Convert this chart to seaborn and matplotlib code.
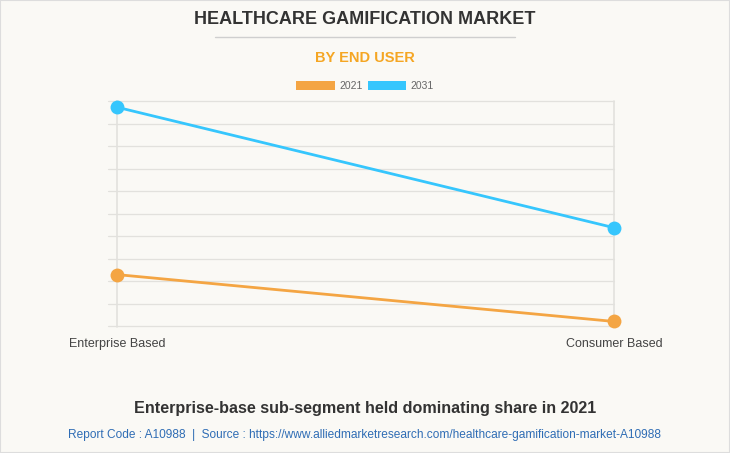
import matplotlib
matplotlib.use('Agg')
import matplotlib.pyplot as plt
import seaborn as sns
import pandas as pd
from matplotlib.patches import Patch, Rectangle
from matplotlib.lines import Line2D

# market values (approx, $ billion)
end_users = ['Enterprise Based', 'Consumer Based']
years = ['2021', '2031']
values_2021 = [4.6, 0.44]
values_2031 = [19.45, 8.76]
palette = {'2021': '#f4a543', '2031': '#36c6fd'}

df = pd.DataFrame({
    'segment': end_users * 2,
    'x': [0, 1] * 2,
    'year': ['2021'] * 2 + ['2031'] * 2,
    'value': values_2021 + values_2031,
})

bg = '#faf9f5'
sns.set_theme(style='white')
plt.rcParams['font.family'] = ['Liberation Sans', 'DejaVu Sans']

fig = plt.figure(figsize=(7.3, 4.53), dpi=100, facecolor=bg)
ax = fig.add_axes([108 / 730, 1 - 327 / 453, (614 - 108) / 730, (327 - 101) / 453])
ax.set_facecolor(bg)

for yr in years:
    sub = df[df['year'] == yr]
    sns.lineplot(data=sub, x='x', y='value', ax=ax, color=palette[yr],
                 linewidth=2.0, marker='o', markersize=10, markeredgewidth=0,
                 clip_on=False, zorder=3, legend=False)

ax.set_xlim(-0.018, 1)
ax.set_ylim(-0.05, 20)
ax.set_yticks(range(0, 21, 2))
ax.set_yticklabels([])
ax.set_xticks([0, 1])
ax.set_xticklabels(end_users, fontsize=9, color='#444444')
ax.tick_params(axis='x', length=0, pad=8)
ax.tick_params(axis='y', length=0)
ax.grid(axis='y', color='#e2e1dd', linewidth=0.9)
for gl in ax.get_ygridlines():
    gl.set_clip_on(False)
for xv in [0, 1]:
    ax.axvline(xv, color='#e2e1dd', linewidth=1.2, zorder=1, clip_on=False)
for s in ax.spines.values():
    s.set_visible(False)
ax.set_xlabel('')
ax.set_ylabel('')

fig.text(0.5, 1 - 20 / 453, 'HEALTHCARE GAMIFICATION MARKET', ha='center', va='center',
         fontsize=13, fontweight='bold', color='#333333')
fig.add_artist(Line2D([215 / 730, 515 / 730], [1 - 37 / 453] * 2, color='#cfcfcf', linewidth=1))
fig.text(0.5, 1 - 58 / 453, 'BY END USER', ha='center', va='center',
         fontsize=10.5, fontweight='bold', color='#f5a623')

handles = [Patch(facecolor=palette[y], edgecolor='none', label=y) for y in years]
fig.legend(handles=handles, loc='center', bbox_to_anchor=(0.5, 1 - 86 / 453), ncol=2,
           frameon=False, fontsize=7.5, labelcolor='#666666', handlelength=3.7,
           handleheight=1.0, handletextpad=0.4, columnspacing=0.5)

fig.text(0.5, 1 - 408 / 453, 'Enterprise-base sub-segment held dominating share in 2021',
         ha='center', va='center', fontsize=11.6, fontweight='bold', color='#333333')
fig.text(0.5, 1 - 435 / 453,
         'Report Code : A10988  |  Source : https://www.alliedmarketresearch.com/healthcare-gamification-market-A10988',
         ha='center', va='center', fontsize=8.6, color='#2f6db5')

fig.add_artist(Rectangle((0, 0), 1, 1, transform=fig.transFigure, fill=False,
                         edgecolor='#dddddd', linewidth=1.5))

fig.savefig('out.png', dpi=100, facecolor=bg)
